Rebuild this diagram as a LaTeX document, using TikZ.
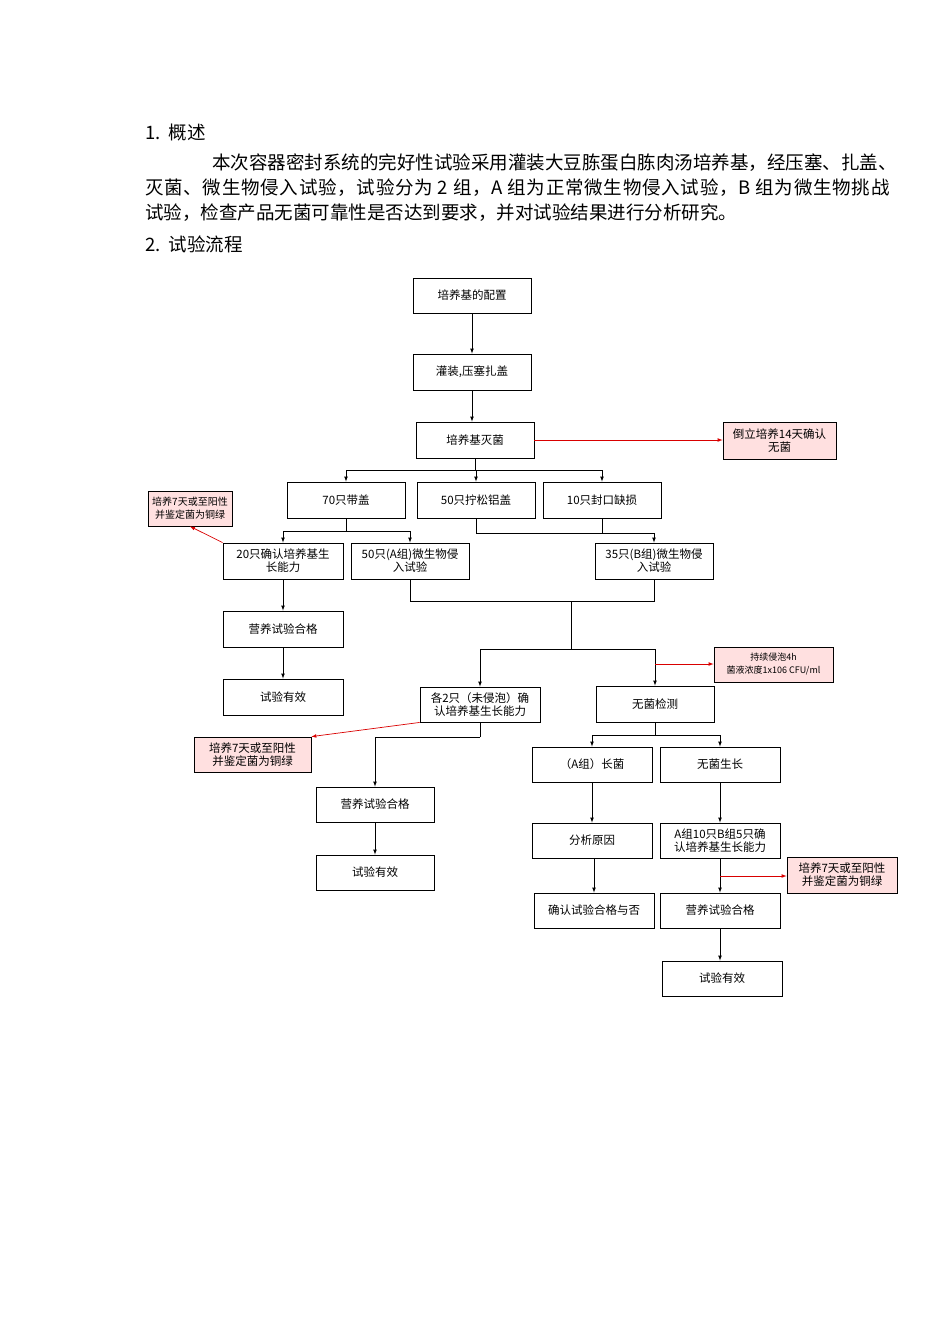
\documentclass[tikz,border=0pt]{standalone}
\usepackage{fontspec}
\setmainfont{Noto Sans CJK SC}
\begin{document}
\begin{tikzpicture}[x=1pt,y=-1pt,
  bx/.style={draw,line width=0.9pt,font=\fontsize{11.5}{13}\selectfont,align=center,inner sep=0pt},
  pk/.style={bx,fill=red!12,line width=0.8pt},
  ar/.style={-latex,line width=0.7pt},
  ra/.style={-latex,red!85!black,line width=0.7pt},
  bt/.style={anchor=west,font=\fontsize{18.5}{21}\selectfont,inner sep=0pt}]
\useasboundingbox (0,0) rectangle (950,1344);
\newcommand\bxat[6]{\node[#1,minimum width=#4-#2,minimum height=#5-#3] (#6) at ({(#2+#4)/2},{(#3+#5)/2})}
\node[bt] (t1) at (145,132) {1.\ \ 概述};
\node[bt] (t2) at (212,163) {本次容器密封系统的完好性试验采用灌装大豆胨蛋白胨肉汤培养基，经压塞、扎盖、};
\node[bt] (t3) at (145,188) {\addfontfeature{LetterSpace=4}灭菌、微生物侵入试验，试验分为 2 组，A 组为正常微生物侵入试验，B 组为微生物挑战};
\node[bt] (t4) at (145,213) {试验，检查产品无菌可靠性是否达到要求，并对试验结果进行分析研究。};
\node[bt] (t5) at (145,244) {2.\ \ 试验流程};
\bxat{bx}{413}{278}{531}{313}{A} {培养基的配置};
\bxat{bx}{413}{354}{531}{390}{B} {灌装,压塞扎盖};
\bxat{bx}{416}{422}{534}{458}{C} {培养基灭菌};
\bxat{pk}{723}{422}{836}{459}{R1} {倒立培养14天确认\\无菌};
\bxat{bx}{287}{482}{405}{518}{D1} {70只带盖};
\bxat{bx}{417}{482}{535}{518}{D2} {50只拧松铝盖};
\bxat{bx}{543}{482}{661}{518}{D3} {10只封口缺损};
\bxat{pk}{148}{491}{232}{526}{R2} {\fontsize{10}{11.5}\selectfont 培养7天或至阳性\\\fontsize{10}{11.5}\selectfont 并鉴定菌为铜绿};
\bxat{bx}{223}{543}{343}{579}{E1} {20只确认培养基生\\长能力};
\bxat{bx}{351}{543}{469}{579}{E2} {50只(A组)微生物侵\\入试验};
\bxat{bx}{595}{543}{713}{579}{E3} {35只(B组)微生物侵\\入试验};
\bxat{bx}{223}{611}{343}{647}{F1} {营养试验合格};
\bxat{bx}{223}{679}{343}{715}{G1} {试验有效};
\bxat{bx}{420}{687}{540}{722}{H1} {各2只（未侵泡）确\\认培养基生长能力};
\bxat{bx}{596}{686}{714}{722}{H2} {无菌检测};
\bxat{pk}{714}{647}{833}{682}{R3} {\fontsize{9}{11}\selectfont 持续侵泡4h\\\fontsize{9}{11}\selectfont 菌液浓度1x106 CFU/ml};
\bxat{pk}{194}{737}{311}{772}{R4} {培养7天或至阳性\\并鉴定菌为铜绿};
\bxat{bx}{316}{787}{434}{822}{I1} {营养试验合格};
\bxat{bx}{316}{855}{434}{890}{J1} {试验有效};
\bxat{bx}{532}{747}{652}{782}{K1} {（A组）长菌};
\bxat{bx}{660}{747}{780}{782}{K2} {无菌生长};
\bxat{bx}{532}{823}{652}{858}{L1} {分析原因};
\bxat{bx}{660}{823}{780}{858}{L2} {A组10只B组5只确\\认培养基生长能力};
\bxat{bx}{534}{893}{654}{928}{M1} {确认试验合格与否};
\bxat{bx}{660}{893}{780}{928}{M2} {营养试验合格};
\bxat{pk}{787}{857}{897}{893}{R5} {培养7天或至阳性\\并鉴定菌为铜绿};
\bxat{bx}{662}{961}{782}{996}{N} {试验有效};
\draw[ar] (A) -- (B);
\draw[ar] (B.south) -- (B.south|-C.north);
\draw[ra] (C) -- (R1.west|-C);
\coordinate (s1) at (476,470);
\draw (C.south) -- (C.south|-s1);
\draw[ar] (s1) -- (D2);
\draw[ar] (s1) -| (D1);
\draw[ar] (s1) -| (D3);
\coordinate (s2) at (346,531);
\draw (D1.south) -- (s2);
\draw[ar] (s2) -| (E1);
\draw[ar] (s2) -| (E2);
\coordinate (s3) at (602,533);
\draw (D3.south) -- (s3);
\draw (D2.south) |- (s3);
\draw[ar] (s3) -| (E3);
\coordinate (s4) at (571,601);
\draw (E2.south) |- (s4);
\draw (E3.south) |- (s4);
\coordinate (s5) at (571,649);
\draw (s4) -- (s5);
\draw[ar] (s5) -| (H1);
\draw[ar] (s5) -| (H2);
\coordinate (s6) at (655,664);
\draw[ra] (s6) -- (R3.west|-s6);
\draw[ra] (E1.north west) -- (R2.south);
\draw[ar] (E1) -- (F1);
\draw[ar] (F1) -- (G1);
\draw[ra] (H1.south west) -- (R4.north east);
\coordinate (s7) at (480,737);
\draw (H1.south) -- (s7);
\draw[ar] (s7) -| (I1);
\draw[ar] (I1) -- (J1);
\coordinate (s8) at (655,735);
\draw (H2.south) -- (s8);
\draw[ar] (s8) -| (K1);
\draw[ar] (s8) -| (K2);
\draw[ar] (K1) -- (L1);
\draw[ar] (K2) -- (L2);
\draw[ar] (L1.south -| M1) -- (M1);
\draw[ar] (L2) -- (M2);
\coordinate (s9) at (720,876);
\draw[ra] (s9) -- (R5.west|-s9);
\draw[ar] (M2) -- (M2.south|-N.north);
\end{tikzpicture}
\end{document}
